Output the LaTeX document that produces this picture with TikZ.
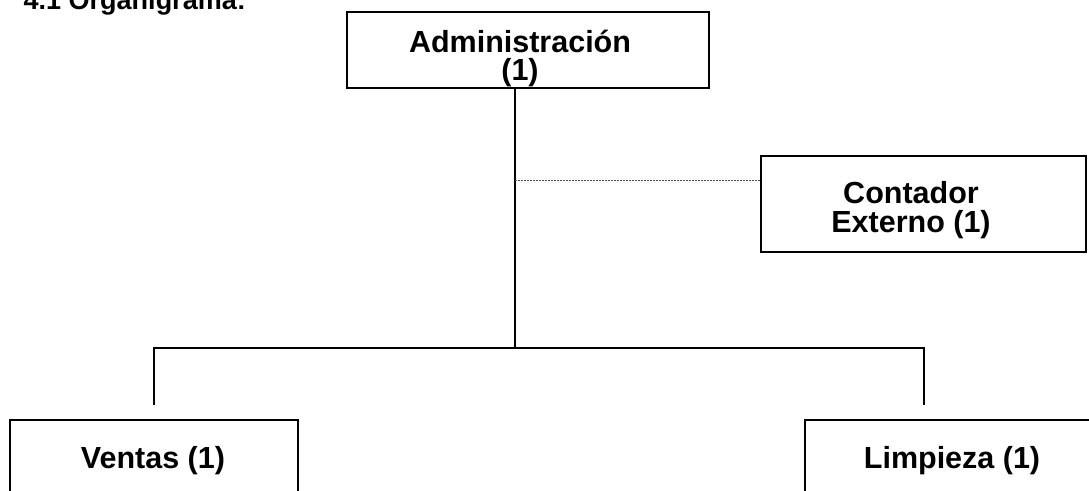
\documentclass[tikz,border=0pt]{standalone}
\usepackage{fontspec}
\setmainfont{Liberation Sans}
\begin{document}
\begin{tikzpicture}[x=1pt,y=-1pt,
  box/.style={draw=black,line width=1.8pt},
  lbl/.style={font=\fontsize{30.5}{33}\selectfont\bfseries,align=center,anchor=base,inner sep=0pt},
  conn/.style={draw=black,line width=1.8pt},
  dotconn/.style={draw=black!70,line width=0.9pt,dash pattern=on 2pt off 1pt}]
\useasboundingbox (0,0) rectangle (1089,490);
\clip (0,0) rectangle (1089,490);
% title (cut off at top, as in the reference)
\node[font=\fontsize{27}{30}\selectfont\bfseries,anchor=base east,inner sep=0pt] (title) at (246,9) {4.1 Organigrama:};
% boxes
\draw[box] (347,12) rectangle (709,88);
\coordinate (adminS) at (515,88);
\draw[box] (761,156) rectangle (1086,252);
\coordinate (contW) at (761,180);
\draw[box] (10,420) rectangle (298,500);
\draw[box] (805,420) rectangle (1095,500);
% labels
\node[lbl] (admin1) at (520,52) {Administración};
\node[lbl] (admin2) at (520,80) {(1)};
\node[lbl] (cont1) at (911,203) {Contador};
\node[lbl] (cont2) at (911,232) {Externo (1)};
\node[lbl] (ventas) at (153,468) {Ventas (1)};
\node[lbl] (limp) at (952,468) {Limpieza (1)};
% connectors
\coordinate (bus) at (515,348);
\coordinate (busL) at (154,348);
\coordinate (busR) at (924,348);
\coordinate (ventasN) at (154,405);
\coordinate (limpN) at (924,405);
\coordinate (dotS) at (515,180);
\draw[conn] (adminS) -- (bus);
\draw[conn] (ventasN) -- (busL) -- (busR) -- (limpN);
\draw[dotconn] (dotS) -- (contW);
\end{tikzpicture}
\end{document}
